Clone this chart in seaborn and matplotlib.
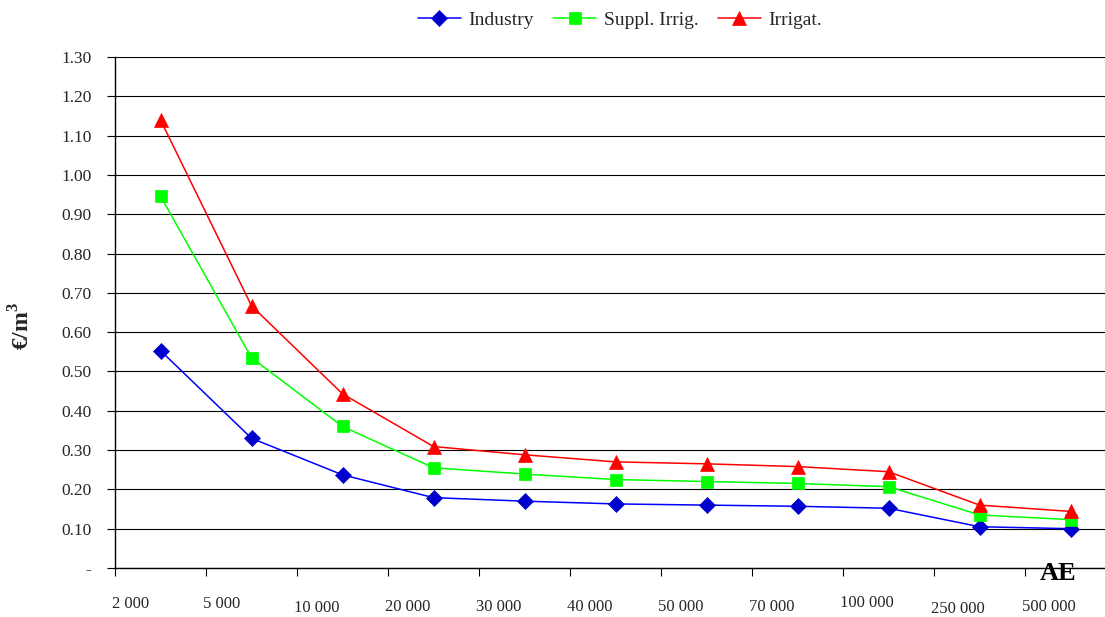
import matplotlib
matplotlib.use("Agg")
import matplotlib.pyplot as plt
from matplotlib import transforms
import seaborn as sns
import pandas as pd

# Plant size classes (population equivalents)
size_labels = ["2 000", "5 000", "10 000", "20 000", "30 000", "40 000",
               "50 000", "70 000", "100 000", "250 000", "500 000"]

# Unit cost of reclaimed water per use, €/m3
industry = [0.553, 0.330, 0.237, 0.179, 0.170, 0.163, 0.160, 0.157, 0.152, 0.105, 0.100]
suppl_irrig = [0.946, 0.535, 0.360, 0.255, 0.239, 0.225, 0.220, 0.215, 0.207, 0.135, 0.123]
irrigat = [1.140, 0.667, 0.443, 0.309, 0.288, 0.270, 0.265, 0.258, 0.245, 0.160, 0.144]

series_names = ["Industry", "Suppl. Irrig.", "Irrigat."]

rows = []
for name, vals in zip(series_names, [industry, suppl_irrig, irrigat]):
    for i, v in enumerate(vals):
        rows.append({"pos": i, "cost": v, "use": name})
df = pd.DataFrame(rows)

sns.set_theme(style="white")
plt.rcParams["font.family"] = ["Liberation Serif", "DejaVu Serif"]
plt.rcParams["mathtext.fontset"] = "custom"
plt.rcParams["mathtext.rm"] = "Liberation Serif"
plt.rcParams["mathtext.bf"] = "Liberation Serif:bold"

W, H = 1105, 617
fig = plt.figure(figsize=(W / 100, H / 100), dpi=100)
# plot area; the last category column runs slightly past the right edge
left, right, top, bottom = 115, 1116, 57, 568
ax = fig.add_axes([left / W, 1 - bottom / H, (right - left) / W, (bottom - top) / H])

styles = {
    "Industry": dict(color="#0000FF", marker="D", mfc="#0000CC", mec="#0000CC", ms=8.5),
    "Suppl. Irrig.": dict(color="#00FF00", marker="s", mfc="#00FF00", mec="#00FF00", ms=9),
    "Irrigat.": dict(color="#FF0000", marker="^", mfc="#FF0000", mec="#FF0000", ms=10),
}

for name in series_names:
    st = styles[name]
    sns.lineplot(data=df[df["use"] == name], x="pos", y="cost", ax=ax,
                 color=st["color"], marker=st["marker"], markersize=st["ms"],
                 markerfacecolor=st["mfc"], markeredgecolor=st["mec"],
                 markeredgewidth=0.5, linewidth=1.1, label=name, zorder=3)

ax.set_xlim(-0.5, len(size_labels) - 0.5)
ax.set_ylim(0, 1.30)

yt = [round(0.1 * k, 2) for k in range(14)]
ax.set_yticks(yt)
ax.set_yticklabels(["-" if v == 0 else f"{v:.2f}" for v in yt], fontsize=12.5)
ax.yaxis.grid(True, color="black", linewidth=0.8)
ax.set_axisbelow(True)

# x ticks sit on the category boundaries; labels hang to the right of each tick
ax.set_xticks([i - 0.5 for i in range(len(size_labels) + 1)])
ax.set_xticklabels([])
label_drop = [0, 0, 4, 3, 3, 3, 3, 3, -1, 5, 3]
for i, (lab, dy) in enumerate(zip(size_labels, label_drop)):
    tr = transforms.blended_transform_factory(ax.transData, ax.transAxes) + \
        transforms.ScaledTranslation(-3 / 100, -(36 + dy) / 100, fig.dpi_scale_trans)
    ax.text(i - 0.5, 0, lab, transform=tr, ha="left", va="center", fontsize=12)

ax.tick_params(axis="both", which="major", direction="out", length=6, width=0.8,
               color="black", bottom=True, left=True, pad=11)
ax.tick_params(axis="x", pad=0)

for s in ["top", "right"]:
    ax.spines[s].set_visible(False)
for s in ["left", "bottom"]:
    ax.spines[s].set_color("black")
    ax.spines[s].set_linewidth(1.0)

ax.set_xlabel("")
ax.set_ylabel(r"€/m$^{\mathbf{3}}$", fontsize=17, fontweight="bold", labelpad=0)
ax.yaxis.set_label_coords(-80 / (right - left), (bottom - 326) / (bottom - top))

fig.text(1058 / W, 1 - 574 / H, "AE", fontsize=19, fontweight="bold",
         color="black", ha="center", va="center", zorder=10)

ax.get_legend().remove()
handles, labels = ax.get_legend_handles_labels()
fig.legend(handles, labels, loc="center", bbox_to_anchor=(620 / W, 1 - 20 / H),
           ncol=3, frameon=False, fontsize=14, handlelength=2.2,
           handletextpad=0.4, columnspacing=1.0)

fig.savefig("out.png", dpi=100)
